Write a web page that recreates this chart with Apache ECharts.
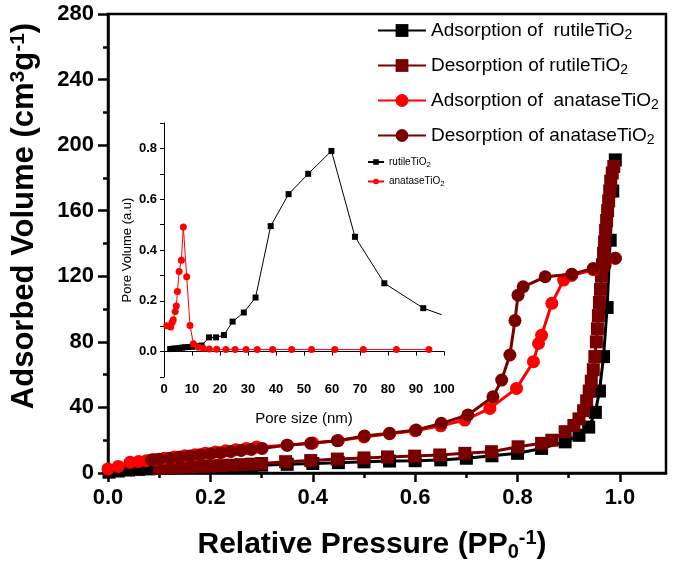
<!DOCTYPE html>
<html><head><meta charset="utf-8">
<script src="https://cdn.jsdelivr.net/npm/echarts@6/dist/echarts.min.js"></script>
<style>html,body{margin:0;padding:0;background:#fff}#c{width:675px;height:564px}</style>
</head><body><div id="c"></div>
<script>
// ---- main isotherm data (relative pressure, adsorbed volume) ----
const rutileAdsP = [0.002,0.02,0.04,0.06,0.08,0.10,0.12,0.14,0.16,0.18,0.20,0.22,0.24,0.26,0.28,0.30,0.35,0.40,0.45,0.50,0.55,0.60,0.65,0.70,0.75,0.80,0.847,0.893,0.920,0.939,0.952,0.960,0.968,0.975,0.981,0.986,0.991];
const rutileAdsV = [0.5,1.2,1.8,2.2,2.5,2.8,3.0,3.2,3.4,3.6,3.8,4.0,4.2,4.4,4.6,4.8,5.3,5.8,6.3,6.8,7.3,7.5,8.0,9.0,10.5,12.0,15.0,19.0,23,28,37,50,71,101,142,172,191];
const rutileDesP = [0.988,0.985,0.982,0.980,0.978,0.976,0.974,0.972,0.970,0.968,0.966,0.964,0.962,0.960,0.958,0.956,0.954,0.951,0.948,0.944,0.940,0.935,0.929,0.920,0.910,0.893,0.867,0.847,0.801,0.749,0.697,0.648,0.599,0.546,0.500,0.448,0.396,0.347,0.300,0.28,0.26,0.24,0.22,0.20,0.18,0.16,0.14,0.12,0.10];
const rutileDesV = [187,183,178,172,166,160,154,148,141,134,127,120,112,104,96,88,80,71,63,56,50,44,38,33,29,25.2,20,18.1,16,13,12,11,10.3,9.8,9.2,8.5,7.6,6.9,5.8,5.4,5.1,4.8,4.5,4.2,4.0,3.7,3.4,3.1,2.8];
const anataseAdsP = [0.0,0.02,0.043,0.06,0.075,0.09,0.11,0.13,0.15,0.17,0.19,0.21,0.23,0.25,0.27,0.29,0.35,0.40,0.45,0.50,0.55,0.60,0.65,0.697,0.746,0.798,0.831,0.841,0.847,0.867,0.890,0.906,0.948,0.991];
const anataseAdsV = [2.5,4.0,6.5,7.0,7.5,8.2,9.0,9.8,10.5,11.2,12.0,12.8,13.5,14.2,15.0,15.8,17.0,18.3,19.8,22.0,24.0,25.8,28.8,32.3,39.4,51.6,67.9,79.0,84.0,103.5,117.7,120.5,124.0,131.0];
const anataseDesP = [0.991,0.971,0.948,0.906,0.854,0.811,0.801,0.795,0.785,0.769,0.752,0.703,0.651,0.602,0.550,0.501,0.448,0.396,0.350,0.301,0.28,0.26,0.24,0.22,0.20,0.18,0.16,0.14,0.12,0.10,0.085];
const anataseDesV = [131,126.8,124.8,121.3,119.7,113.6,108.5,93,72,56.7,46.5,35.4,30.3,26.2,24.2,22.6,19.7,18.1,17.0,15.0,14.4,13.8,13.1,12.4,11.8,11.1,10.4,9.7,9.0,8.4,8.0];

// ---- inset pore size distribution (pore size nm, pore volume a.u) ----
const insetRutileD = [2.2,3.0,3.8,4.6,5.5,6.5,7.5,8.7,10.0,11.5,13.4,16.1,18.6,21.4,24.5,28.5,32.7,38.1,44.5,51.5,59.8,68.2,78.7,92.6,99.2];
const insetRutilePV = [0.010,0.011,0.012,0.012,0.014,0.016,0.017,0.018,0.019,0.021,0.024,0.056,0.056,0.065,0.118,0.154,0.213,0.494,0.620,0.700,0.790,0.452,0.269,0.171,0.145];
const insetAnataseD = [1.0,2.4,2.9,3.3,4.0,4.4,4.8,5.4,6.2,6.9,8.1,9.3,10.5,12.3,14.0,16.2,18.8,22.1,25.4,29.3,33.3,38.8,45.6,52.7,61.0,71.2,83.0,94.6];
const insetAnatasePV = [0.102,0.097,0.115,0.125,0.158,0.180,0.237,0.315,0.360,0.491,0.295,0.103,0.031,0.017,0.013,0.010,0.009,0.008,0.008,0.008,0.008,0.008,0.008,0.008,0.008,0.008,0.008,0.008];

const mainNames = ['Adsorption of  rutileTiO2','Desorption of rutileTiO2','Adsorption of  anataseTiO2','Desorption of anataseTiO2'];
const insetNames = ['rutileTiO2','anataseTiO2'];
const xMajorTicks = [0.0,0.2,0.4,0.6,0.8,1.0];
const xMinorTicks = [0.1,0.3,0.5,0.7,0.9];

const FF = "'Liberation Sans', Arial, sans-serif";
const zip = (a,b) => a.map((v,i)=>[v,b[i]]);
const subFmt = n => n.replace(/TiO2$/, 'TiO{sub|2}');

const BLACK = '#000000', DARK = '#7a0000', RED = '#ff0000';

function mainSeries(name, P, V, color, symbol, z) {
  return {name, type:'line', xAxisIndex:0, yAxisIndex:0, data:zip(P,V), symbol, symbolSize:13,
    lineStyle:{color, width:3}, itemStyle:{color}, z, animation:false};
}
function insetSeries(name, D, PV, color, symbol, size) {
  return {name, type:'line', xAxisIndex:1, yAxisIndex:1, data:zip(D,PV), symbol, symbolSize:size,
    lineStyle:{color, width:1}, itemStyle:{color}, z:5, animation:false};
}

const chart = echarts.init(document.getElementById('c'), null, {renderer:'canvas'});
const insetR = insetSeries(insetNames[0], insetRutileD, insetRutilePV, BLACK, 'rect', 6);
insetR.data[insetR.data.length-1] = {value: insetR.data[insetR.data.length-1], symbol:'none'};

const tickStyle = {color:'#000', width:2.5};

chart.setOption({
  animation:false,
  backgroundColor:'#fff',
  grid:[
    {left:108, top:14, width:558, height:459, show:true, borderColor:'#000', borderWidth:2.5, backgroundColor:'transparent'},
    {left:164, top:123, width:280, height:254}
  ],
  legend:[
    {data:mainNames, orient:'vertical', left:372, top:16, itemWidth:48, itemHeight:16, itemGap:14,
     formatter:subFmt, textStyle:{fontSize:19, fontFamily:FF, color:'#000',
       rich:{sub:{fontSize:14, fontFamily:FF, color:'#000', verticalAlign:'bottom', padding:[9,0,0,0]}}}},
    {data:insetNames, orient:'vertical', left:362, top:152, itemWidth:16, itemHeight:7, itemGap:8,
     formatter:subFmt, textStyle:{fontSize:10, fontFamily:FF, color:'#000',
       rich:{sub:{fontSize:8, fontFamily:FF, color:'#000', verticalAlign:'bottom', padding:[5,0,0,0]}}}}
  ],
  xAxis:[
    {gridIndex:0, type:'value', min:0, max:1.09, position:'bottom',
     axisLine:{lineStyle:{color:'#000', width:2.5}},
     axisTick:{inside:false, length:9, lineStyle:tickStyle, customValues:xMajorTicks},
     splitLine:{show:false},
     axisLabel:{fontSize:22, fontWeight:'bold', fontFamily:FF, color:'#000', margin:14,
       customValues:xMajorTicks, formatter:v => v.toFixed(1)}},
    {gridIndex:1, type:'value', min:0, max:100, interval:10,
     name:'Pore size (nm)', nameLocation:'middle', nameGap:34,
     nameTextStyle:{fontSize:15, fontFamily:FF, color:'#000'},
     axisLine:{lineStyle:{color:'#000', width:1}},
     axisTick:{inside:false, length:4, lineStyle:{color:'#000', width:1}},
     splitLine:{show:false},
     axisLabel:{fontSize:13, fontWeight:'bold', fontFamily:FF, color:'#000', margin:6}},
    {gridIndex:0, type:'value', min:0, max:1.09, position:'bottom', offset:0,
     axisLine:{show:false}, axisLabel:{show:false}, splitLine:{show:false},
     axisTick:{inside:false, length:5, lineStyle:tickStyle, customValues:xMinorTicks}}
  ],
  yAxis:[
    {gridIndex:0, type:'value', min:0, max:280, interval:40,
     axisLine:{lineStyle:{color:'#000', width:2.5}},
     axisTick:{inside:false, length:10, lineStyle:tickStyle},
     minorTick:{show:true, splitNumber:2, length:5, lineStyle:tickStyle},
     splitLine:{show:false},
     axisLabel:{fontSize:22, fontWeight:'bold', fontFamily:FF, color:'#000', margin:14}},
    {gridIndex:1, type:'value', min:-0.1, max:0.9, interval:0.1,
     name:'Pore Volume (a.u)', nameLocation:'middle', nameGap:30, nameRotate:90,
     nameTextStyle:{fontSize:13, fontFamily:FF, color:'#000'},
     axisLine:{lineStyle:{color:'#000', width:1}},
     axisTick:{inside:false, length:4, lineStyle:{color:'#000', width:1}},
     splitLine:{show:false},
     axisLabel:{fontSize:13, fontWeight:'bold', fontFamily:FF, color:'#000', margin:7,
       formatter:v => { const k = Math.round(v*10); return (k>=0 && k<=8 && k%2===0) ? (k/10).toFixed(1) : ''; }}}
  ],
  graphic:[
    {type:'text', x:24, y:216, rotation:Math.PI/2, z:10,
     style:{text:'Adsorbed Volume (cm{sup|3}g{sup|-1})', fontSize:31, fontWeight:'bold', fontFamily:FF, fill:'#000',
       align:'center', verticalAlign:'middle',
       rich:{sup:{fontSize:21, fontWeight:'bold', fontFamily:FF, fill:'#000', verticalAlign:'top', padding:[0,0,12,0]}}}},
    {type:'text', x:372, y:545, z:10,
     style:{text:'Relative Pressure (PP{sub|0}{sup|-1})', fontSize:30, fontWeight:'bold', fontFamily:FF, fill:'#000',
       align:'center', verticalAlign:'middle',
       rich:{sub:{fontSize:20, fontWeight:'bold', fontFamily:FF, fill:'#000', verticalAlign:'bottom', padding:[14,0,0,0]},
             sup:{fontSize:20, fontWeight:'bold', fontFamily:FF, fill:'#000', verticalAlign:'top', padding:[0,0,12,0]}}}}
  ],
  series:[
    mainSeries(mainNames[0], rutileAdsP, rutileAdsV, BLACK, 'rect', 1),
    mainSeries(mainNames[1], rutileDesP, rutileDesV, DARK, 'rect', 2),
    mainSeries(mainNames[2], anataseAdsP, anataseAdsV, RED, 'circle', 3),
    mainSeries(mainNames[3], anataseDesP, anataseDesV, DARK, 'circle', 4),
    insetR,
    insetSeries(insetNames[1], insetAnataseD, insetAnatasePV, RED, 'circle', 7)
  ]
});
</script></body></html>
